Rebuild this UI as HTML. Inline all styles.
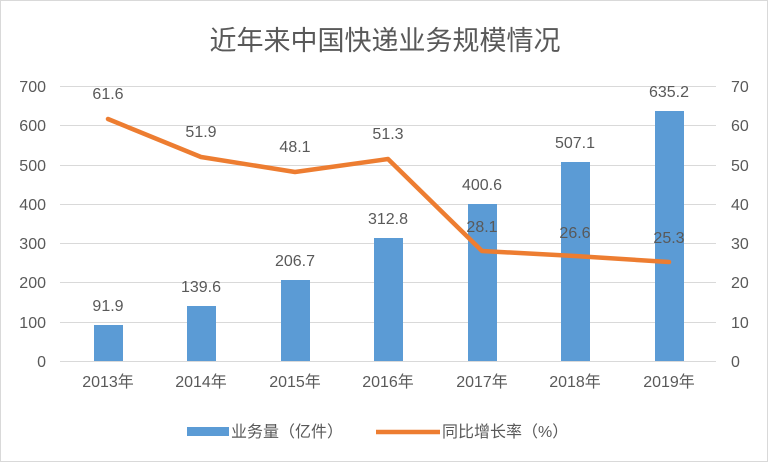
<!DOCTYPE html>
<html><head><meta charset="utf-8"><style>body{margin:0;background:#fff}svg{display:block}</style></head>
<body>
<svg width="770" height="465" xmlns="http://www.w3.org/2000/svg" font-family="Liberation Sans, Noto Sans CJK SC, sans-serif">
<rect x="0.5" y="0.5" width="767" height="461" fill="#fff" stroke="#d9d9d9"/>
<text x="385" y="50" font-size="27" fill="#595959" text-anchor="middle">近年来中国快递业务规模情况</text>
<g stroke="#d9d9d9" stroke-width="1">
<line x1="60" x2="716" y1="86.5" y2="86.5"/><line x1="60" x2="716" y1="125.5" y2="125.5"/>
<line x1="60" x2="716" y1="165.5" y2="165.5"/><line x1="60" x2="716" y1="204.5" y2="204.5"/>
<line x1="60" x2="716" y1="243.5" y2="243.5"/><line x1="60" x2="716" y1="282.5" y2="282.5"/>
<line x1="60" x2="716" y1="322.5" y2="322.5"/><line x1="60" x2="716" y1="361.5" y2="361.5"/>
</g>
<g font-size="16" fill="#595959" text-anchor="end">
<text x="46" y="92">700</text><text x="46" y="131">600</text><text x="46" y="171">500</text><text x="46" y="210">400</text><text x="46" y="249">300</text><text x="46" y="288">200</text><text x="46" y="328">100</text><text x="46" y="367">0</text>
</g>
<g font-size="16" fill="#595959" text-anchor="start">
<text x="731" y="92">70</text><text x="731" y="131">60</text><text x="731" y="171">50</text><text x="731" y="210">40</text><text x="731" y="249">30</text><text x="731" y="288">20</text><text x="731" y="328">10</text><text x="731" y="367">0</text>
</g>
<g fill="#5b9bd5">
<rect x="94" y="325" width="29" height="36"/>
<rect x="187" y="306" width="29" height="55"/>
<rect x="281" y="280" width="29" height="81"/>
<rect x="374" y="238" width="29" height="123"/>
<rect x="468" y="204" width="29" height="157"/>
<rect x="561" y="162" width="29" height="199"/>
<rect x="655" y="111" width="29" height="250"/>
</g>
<g font-size="16" fill="#595959" text-anchor="middle">
<text x="108" y="387">2013年</text><text x="201" y="387">2014年</text><text x="295" y="387">2015年</text><text x="388" y="387">2016年</text><text x="482" y="387">2017年</text><text x="575" y="387">2018年</text><text x="669" y="387">2019年</text>
<text x="108" y="311">91.9</text><text x="201" y="292">139.6</text><text x="295" y="266">206.7</text><text x="388" y="224">312.8</text><text x="482" y="190">400.6</text><text x="575" y="148">507.1</text><text x="669" y="97">635.2</text>
</g>
<polyline points="108,119 201,157 295,172 388,159 482,251 575,256 669,262" fill="none" stroke="#ed7d31" stroke-width="4.5" stroke-linejoin="round" stroke-linecap="round"/>
<g font-size="16" fill="#595959" text-anchor="middle">
<text x="108" y="99">61.6</text><text x="201" y="137">51.9</text><text x="295" y="152">48.1</text><text x="388" y="139">51.3</text><text x="482" y="232">28.1</text><text x="575" y="238">26.6</text><text x="669" y="243">25.3</text>
</g>
<rect x="187" y="427" width="42" height="9" fill="#5b9bd5"/>
<text x="231" y="437" font-size="16" fill="#595959">业务量（亿件）</text>
<line x1="376" x2="440" y1="432" y2="432" stroke="#ed7d31" stroke-width="4.5"/>
<text x="442" y="437" font-size="16" fill="#595959">同比增长率（%）</text>
</svg>
</body></html>
